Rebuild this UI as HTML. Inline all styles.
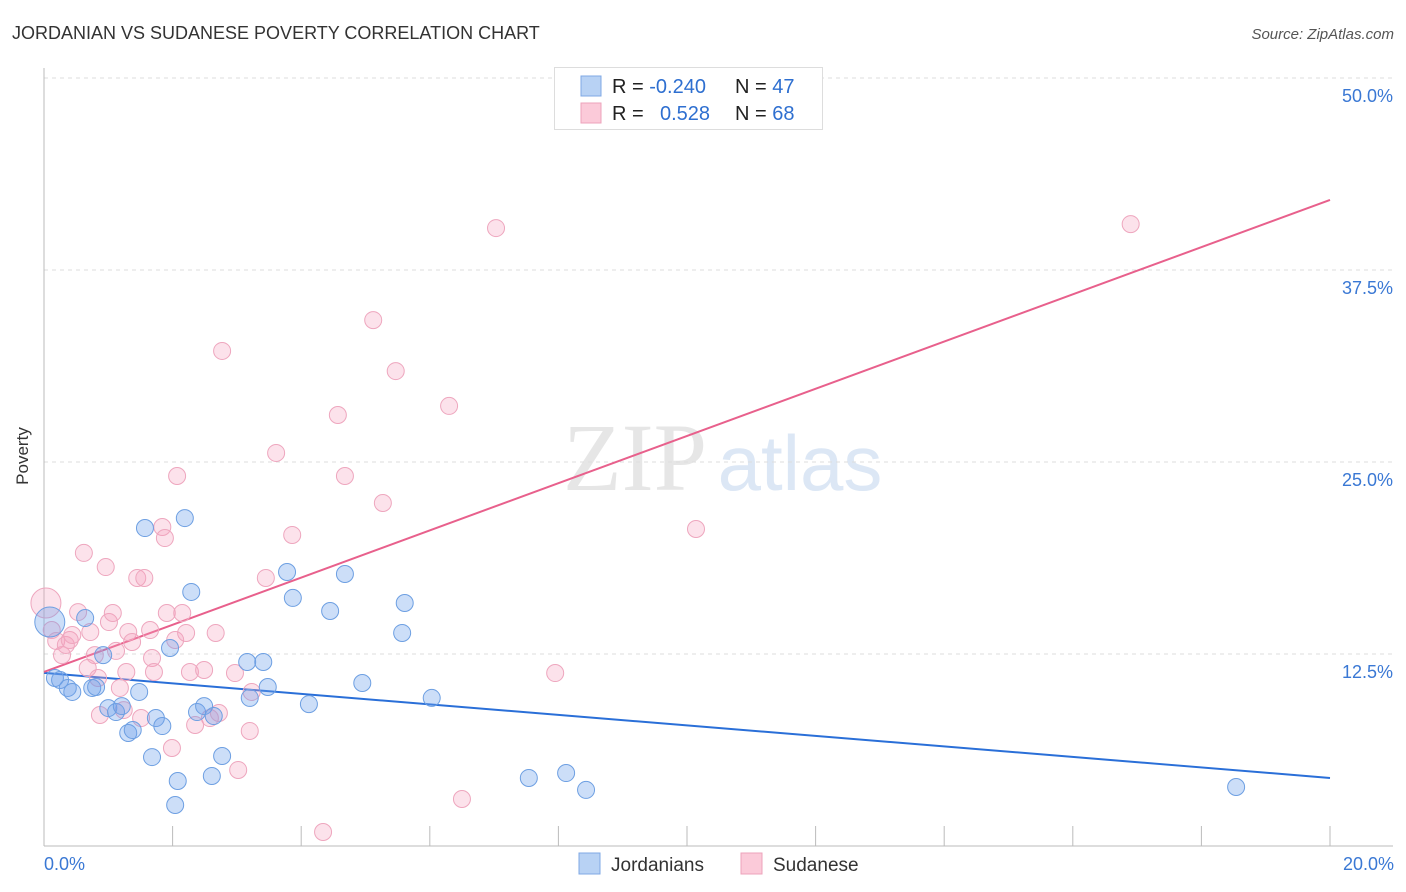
<!DOCTYPE html>
<html><head><meta charset="utf-8"><style>
body{margin:0;background:#fff;font-family:"Liberation Sans",sans-serif}
#c{position:absolute;left:0;top:0}
</style></head><body>
<svg id="c" width="1406" height="892" xmlns="http://www.w3.org/2000/svg">
<text x="12" y="39" font-size="18" fill="#333">JORDANIAN VS SUDANESE POVERTY CORRELATION CHART</text>
<text x="1394" y="39" font-size="15" fill="#555" font-style="italic" text-anchor="end">Source: ZipAtlas.com</text>
<g><text x="635" y="490" font-size="96" fill="#e6e6e6" font-family="Liberation Serif" text-anchor="middle">ZIP</text><text x="800" y="490" font-size="78" fill="#dce7f5" text-anchor="middle">atlas</text></g>
<g id="grid"></g><g id="axes"></g><g id="lines"></g><g id="pts"></g>
<text x="28" y="456" font-size="17" fill="#333" transform="rotate(-90 28 456)" text-anchor="middle">Poverty</text>
<text x="44" y="870" font-size="18" fill="#3a78d4">0.0%</text>
<text x="1394" y="870" font-size="18" fill="#3a78d4" text-anchor="end">20.0%</text>
<g>
<rect x="554.5" y="67.5" width="268" height="62" fill="#fff" stroke="#ddd"/>
<rect x="581" y="76" width="20" height="20" fill="#b8d2f4" stroke="#7fa8e4"/>
<rect x="581" y="103" width="20" height="20" fill="#fbcad9" stroke="#eca3bb"/>
<text x="612" y="93" font-size="20" fill="#222">R = <tspan fill="#2e6fd0">-0.240</tspan></text>
<text x="735" y="93" font-size="20" fill="#222">N = <tspan fill="#2e6fd0">47</tspan></text>
<text x="612" y="120" font-size="20" fill="#222">R = <tspan fill="#2e6fd0" x="660">0.528</tspan></text>
<text x="735" y="120" font-size="20" fill="#222">N = <tspan fill="#2e6fd0">68</tspan></text>
</g>
<g>
<rect x="579" y="853" width="21" height="21" fill="#b8d2f4" stroke="#7fa8e4"/>
<text x="611" y="871" font-size="19" fill="#333">Jordanians</text>
<rect x="741" y="853" width="21" height="21" fill="#fbcad9" stroke="#eca3bb"/>
<text x="773" y="871" font-size="19" fill="#333">Sudanese</text>
</g>
</svg>
<script>
const yTicks=[12.5,25,37.5,50];
const yTickLabels=["12.5%","25.0%","37.5%","50.0%"];
const xTicks=[0,2,4,6,8,10,12,14,16,18,20];
const jorX=[0.09,0.17,0.25,0.37,0.44,0.64,0.75,0.81,0.92,1.00,1.12,1.21,1.31,1.38,1.48,1.57,1.68,1.74,1.84,1.96,2.08,2.04,2.19,2.29,2.38,2.49,2.61,2.64,2.77,3.16,3.20,3.41,3.48,3.78,3.87,4.12,4.45,4.68,4.95,5.57,5.61,6.03,7.54,8.12,8.43,18.54];
const jorY=[14.58,10.94,10.81,10.29,10.03,14.84,10.29,10.35,12.43,8.98,8.72,9.11,7.36,7.55,10.03,20.70,5.79,8.33,7.81,12.89,4.23,2.67,21.35,16.54,8.72,9.11,4.56,8.46,5.86,11.98,9.64,11.98,10.35,17.84,16.15,9.24,15.30,17.71,10.61,13.87,15.82,9.64,4.43,4.75,3.65,3.84];
const sudX=[0.03,0.12,0.19,0.28,0.34,0.40,0.44,0.53,0.62,0.68,0.72,0.79,0.84,0.87,0.96,1.01,1.07,1.12,1.18,1.24,1.28,1.31,1.37,1.45,1.51,1.56,1.65,1.68,1.71,1.84,1.88,1.91,1.99,2.04,2.07,2.15,2.21,2.27,2.35,2.49,2.58,2.67,2.72,2.77,2.97,3.02,3.20,3.23,3.45,3.61,3.86,4.34,4.57,4.68,5.12,5.27,5.47,6.30,6.50,7.03,7.95,10.14,16.90];
const sudY=[15.82,14.06,13.35,12.43,13.09,13.41,13.74,15.23,19.08,11.59,13.93,12.43,10.94,8.53,18.16,14.58,15.17,12.70,10.29,8.85,11.33,13.93,13.28,17.45,8.33,17.45,14.06,12.24,11.33,20.77,20.05,15.17,6.38,13.41,24.09,15.17,13.87,11.33,7.88,11.46,8.33,13.87,8.66,32.23,11.26,4.95,7.49,10.03,17.45,25.59,20.25,0.91,28.06,24.09,34.24,22.33,30.92,28.65,3.06,40.23,11.26,20.64,40.49];
const jorTrend=[11.27,4.43];
const sudTrend=[11.33,42.06];
const NS="http://www.w3.org/2000/svg";
const sx=v=>44+v/20*1286, sy=v=>846-v/12.5*192;
function mk(t,a,p){const e=document.createElementNS(NS,t);for(const k in a)e.setAttribute(k,a[k]);document.getElementById(p).appendChild(e);return e;}
yTicks.forEach((t,i)=>{
 let l=mk('line',{x1:44,x2:1393,y1:sy(t),y2:sy(t),stroke:'#ddd','stroke-dasharray':'4,4'},'grid');
 
 
 let tx=mk('text',{x:1393,y:sy(t)+24,'font-size':18,fill:'#3a78d4','text-anchor':'end'},'grid');tx.textContent=yTickLabels[i];
 
 
});
let ax=mk('line',{x1:44,x2:44,y1:68,y2:846,stroke:'#bbb'},'axes');


let bx=mk('line',{x1:44,x2:1393,y1:846,y2:846,stroke:'#bbb'},'axes');


xTicks.forEach(t=>{let l=mk('line',{x1:sx(t),x2:sx(t),y1:826,y2:846,stroke:'#bbb'},'axes');
 
 });
function pts(X,Y,fill,stroke,name){X.forEach((x,i)=>{const big=i===0;
 let c=mk('circle',{cx:sx(x),cy:sy(Y[i]),r:big?15:8.5,fill:fill,stroke:stroke,'stroke-width':1},'pts');
 
 });}
pts(sudX,sudY,'rgba(244,160,190,0.3)','#eea6be','sudanese-point');
pts(jorX,jorY,'rgba(110,160,235,0.35)','#6d9fe2','jordanian-point');
let l1=mk('line',{x1:sx(0),y1:sy(jorTrend[0]),x2:sx(20),y2:sy(jorTrend[1]),stroke:'#2a6fd8','stroke-width':2},'lines');


let l2=mk('line',{x1:sx(0),y1:sy(sudTrend[0]),x2:sx(20),y2:sy(sudTrend[1]),stroke:'#e8608c','stroke-width':2},'lines');


</script>
</body></html>
